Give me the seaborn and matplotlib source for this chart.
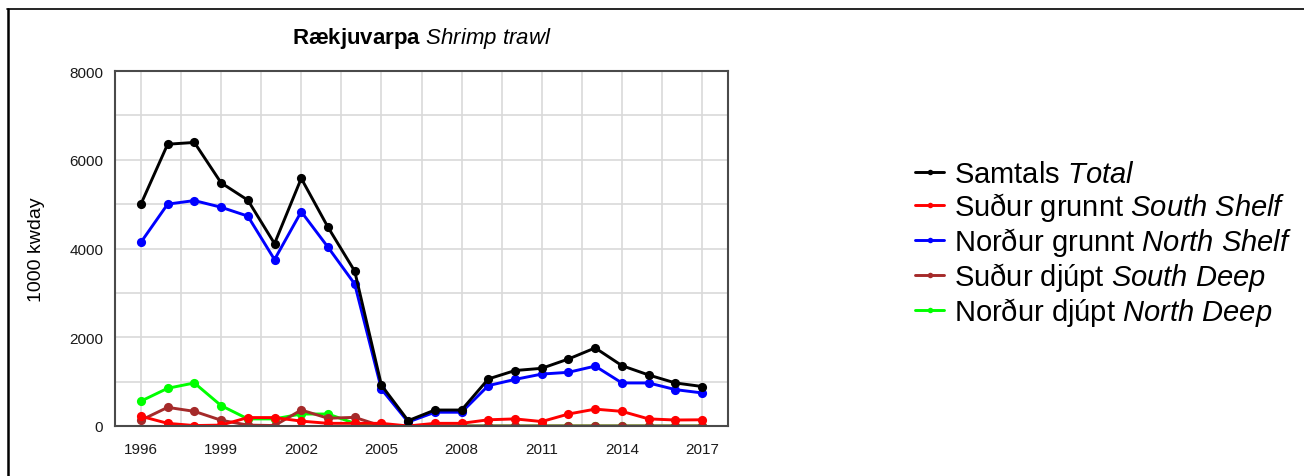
import numpy as np
import pandas as pd
import matplotlib
matplotlib.use("Agg")
import matplotlib.pyplot as plt
import seaborn as sns
from matplotlib.lines import Line2D
from matplotlib.ticker import FixedLocator, MultipleLocator

# effort (1000 kwday) per area
years = list(range(1996, 2018))
total = [5000, 6350, 6390, 5480, 5090, 4110, 5580, 4480, 3490, 920, 120, 360,
         360, 1060, 1250, 1300, 1510, 1760, 1360, 1150, 970, 890]
south_shelf = [220, 60, 10, 20, 190, 190, 110, 60, 60, 60, 0, 60,
               60, 140, 160, 100, 270, 380, 330, 160, 135, 140]
north_shelf = [4140, 5000, 5080, 4930, 4730, 3750, 4830, 4030, 3200, 830, 90, 310,
               310, 910, 1050, 1170, 1210, 1350, 970, 970, 820, 745]
south_deep = [130, 420, 330, 130, 20, 10, 360, 175, 195, 0, 0, 0,
              0, 0, 0, 0, 0, 0, 0, 0, 0, 0]
north_deep = [560, 850, 970, 460, 160, 160, 270, 270, 60, 0, 0, 0,
              0, 0, 0, 0, 0, 0, 0, 0, 0, 0]

labels = {
    "total": r"Samtals $\mathit{Total}$",
    "south_shelf": r"Suður grunnt $\mathit{South\ Shelf}$",
    "north_shelf": r"Norður grunnt $\mathit{North\ Shelf}$",
    "south_deep": r"Suður djúpt $\mathit{South\ Deep}$",
    "north_deep": r"Norður djúpt $\mathit{North\ Deep}$",
}
colors = {"total": "#000000", "south_shelf": "#ff0000", "north_shelf": "#0000ff",
          "south_deep": "#a52a2a", "north_deep": "#00ff00"}
legend_order = ["total", "south_shelf", "north_shelf", "south_deep", "north_deep"]
draw_order = ["north_deep", "south_deep", "north_shelf", "south_shelf", "total"]

df = pd.DataFrame({"year": years, "total": total, "south_shelf": south_shelf,
                   "north_shelf": north_shelf, "south_deep": south_deep,
                   "north_deep": north_deep})
long_df = df.melt(id_vars="year", var_name="series", value_name="value")

sns.set_style("white")
plt.rcParams["font.family"] = ["Liberation Sans", "DejaVu Sans"]
plt.rcParams["text.color"] = "black"
plt.rcParams["mathtext.fontset"] = "custom"
plt.rcParams["mathtext.rm"] = "Liberation Sans"
plt.rcParams["mathtext.it"] = "Liberation Sans:italic"
plt.rcParams["mathtext.bf"] = "Liberation Sans:bold"

fig = plt.figure(figsize=(13.04, 4.77), dpi=100)
ax = fig.add_axes([115 / 1304, 1 - 427 / 477, 613 / 1304, 355 / 477])

sns.lineplot(data=long_df, x="year", y="value", hue="series", hue_order=draw_order,
             palette=colors, marker="o", markersize=6.6, markeredgewidth=0,
             linewidth=2.1, errorbar=None, legend=False, ax=ax)

ax.set_xlim(1995.03, 2017.97)
ax.set_ylim(0, 8000)
ax.set_xticks(np.arange(1996, 2018, 3))
ax.set_yticks(np.arange(0, 8001, 2000))
ax.xaxis.set_minor_locator(FixedLocator(np.arange(1996, 2018, 1.5)))
ax.yaxis.set_minor_locator(MultipleLocator(1000))
ax.grid(which="both", color="#d9d9d9", linewidth=1.2)
ax.set_axisbelow(True)
ax.tick_params(which="minor", length=0)
ax.tick_params(axis="both", which="major", direction="out", length=5, width=1,
               color="#444444", labelsize=11, labelcolor="#1a1a1a")
ax.tick_params(axis="y", pad=3.5)
ax.tick_params(axis="x", pad=6.5)
for sp in ax.spines.values():
    sp.set_color("#4a4a4a")
    sp.set_linewidth(1.5)

ax.set_xlabel("")
ax.set_ylabel("1000 kwday", fontsize=14, color="black")
ax.yaxis.set_label_coords(-0.114, 0.5)
ax.set_title(r"Rækjuvarpa $\mathit{Shrimp\ trawl}$", fontsize=16,
             fontweight="bold", color="black", pad=20)

# legend, in the reference order
line_by_series = dict(zip(draw_order, ax.lines[:5]))
handles = [line_by_series[k] for k in legend_order]
fig.legend(handles, [labels[k] for k in legend_order], loc="center left",
           bbox_to_anchor=(915 / 1304, 1 - 245 / 477), frameon=False,
           fontsize=21, handlelength=1.0, handletextpad=0.33,
           labelspacing=0.07, borderpad=0, borderaxespad=0, markerscale=0.6)

# frame lines along the top and left of the picture
fig.add_artist(Line2D([7 / 1304, 1], [1 - 10 / 477, 1 - 10 / 477],
                      transform=fig.transFigure, color="black", linewidth=1.2))
fig.add_artist(Line2D([7.5 / 1304, 7.5 / 1304], [0, 1 - 10 / 477],
                      transform=fig.transFigure, color="black", linewidth=1.8))

fig.savefig("out.png", dpi=100)
